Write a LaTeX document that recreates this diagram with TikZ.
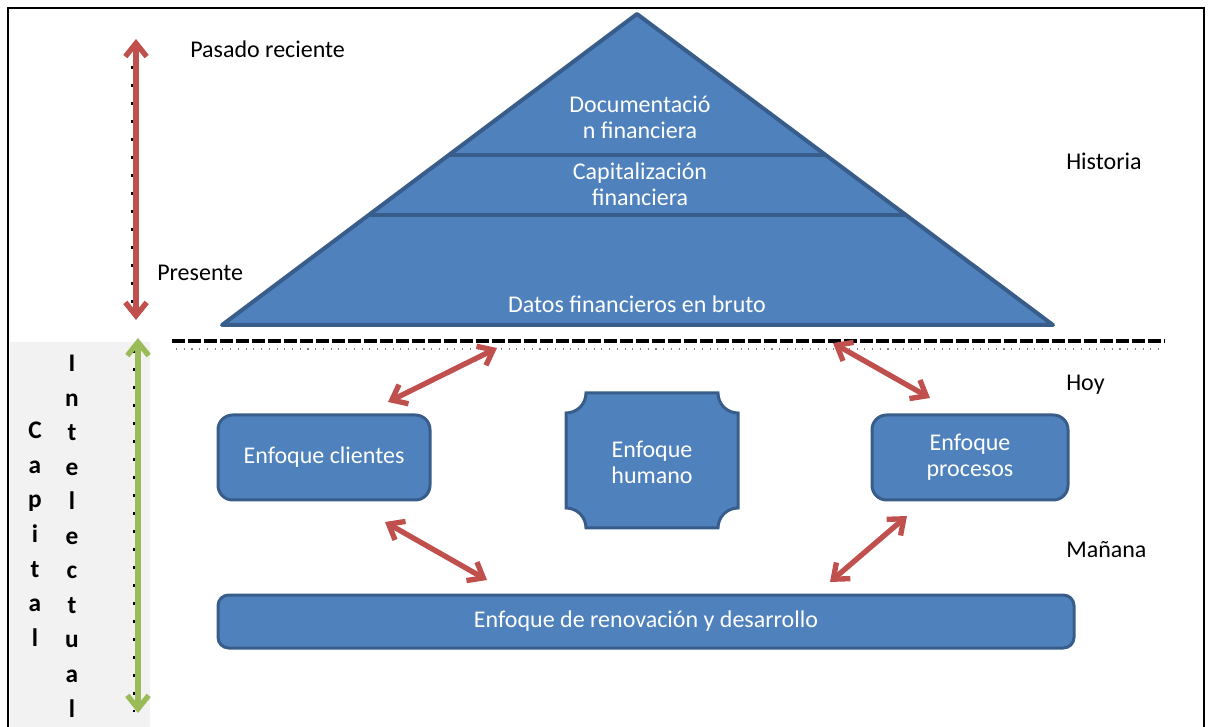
\documentclass[tikz,border=0pt]{standalone}
\usepackage{fontspec}
\setmainfont{Carlito}
\usetikzlibrary{arrows.meta,calc}

\definecolor{fillblue}{HTML}{4F81BD}
\definecolor{edgeblue}{HTML}{385D8A}
\definecolor{arrred}{HTML}{C0504D}
\definecolor{arrgreen}{HTML}{9BBB59}
\definecolor{panelgray}{HTML}{F2F2F2}

\begin{document}
\begin{tikzpicture}[x=0.75pt,y=-0.75pt,
  lbl/.style={font=\fontsize{18}{19.5}\selectfont, text=black, inner sep=0pt},
  wlbl/.style={font=\fontsize{18}{19.5}\selectfont, text=white, align=center, inner sep=0pt},
  vlbl/.style={font=\bfseries\fontsize{19}{25.9}\selectfont, text=black, align=center, inner sep=0pt},
  fbox/.style={draw=edgeblue, fill=fillblue, line width=2.25pt, rounded corners=11pt,
    text=white, font=\fontsize{18}{19.5}\selectfont, align=center, inner sep=0pt},
  duoarrow/.style={line width=4pt, {Straight Barb[length=10pt,width=16pt]}-{Straight Barb[length=10pt,width=16pt]}},
  redarrow/.style={duoarrow, draw=arrred},
  greenarrow/.style={duoarrow, draw=arrgreen},
  speck/.style={draw=black, line width=2pt, dash pattern=on 2.5pt off 11pt},
  divider/.style={draw=edgeblue, line width=3pt},
]
\useasboundingbox (0,0) rectangle (1208,727);

% frame and side panel
\fill[panelgray] (10,342) rectangle (150,727);
\draw[line width=2pt] (8,727) -- (8,8) -- (1204,8) -- (1204,727);

% time axes on the left
\coordinate (pastTop) at (136,39);
\coordinate (pastBot) at (136,320);
\coordinate (icTop) at (138,338);
\coordinate (icBot) at (138,713);
\draw[speck] (132,48) -- (132,318);
\draw[speck] (134,350) -- (134,712);
\draw[redarrow] (pastTop) -- (pastBot);
\draw[greenarrow] (icTop) -- (icBot);

\node[lbl, anchor=base west] (pasado) at (190,58) {Pasado reciente};
\node[lbl, anchor=base west] (presente) at (157,281) {Presente};
\node[lbl, anchor=base west] (historia) at (1066,170) {Historia};
\node[lbl, anchor=base west] (hoy) at (1066,391) {Hoy};
\node[lbl, anchor=base west] (manana) at (1066,557) {Mañana};

\node[vlbl, anchor=north] (capital) at (35,422) {C\\a\\p\\i\\t\\a\\l};
\node[vlbl, anchor=north] (intelectual) at (72,355) {I\\n\\t\\e\\l\\e\\c\\t\\u\\a\\l};

% pyramid of financial data
\coordinate (apex) at (637,14);
\coordinate (baseL) at (222,325);
\coordinate (baseR) at (1053,325);
\draw[fill=fillblue, draw=edgeblue, line width=3pt, line join=round]
  (apex) -- (baseR) -- (baseL) -- cycle;
\coordinate (d1L) at ($(apex)!0.4534!(baseL)$);
\coordinate (d1R) at ($(apex)!0.4534!(baseR)$);
\coordinate (d2L) at ($(apex)!0.6463!(baseL)$);
\coordinate (d2R) at ($(apex)!0.6463!(baseR)$);
\draw[divider] (d1L) -- (d1R);
\draw[divider] (d2L) -- (d2R);

\node[wlbl] (doc) at (640,117) {Documentació\\n financiera};
\node[wlbl] (cap) at (640,184) {Capitalización\\financiera};
\node[wlbl] (datos) at (637,304) {Datos financieros en bruto};

% present / future divider
\draw[line width=3pt, dash pattern=on 9.5pt off 2.5pt] (172,341) -- (1165,341);
\draw[gray, line width=0.8pt, dash pattern=on 0.8pt off 5pt] (176,349) -- (1165,349);

% focus boxes
\node[fbox, minimum width=159pt, minimum height=63.75pt] (cli) at (324,457.5) {Enfoque clientes};
\node[fbox, minimum width=147pt, minimum height=63.75pt] (pro) at (970,457.5) {Enfoque\\procesos};
\node[fbox, rounded corners=8pt, minimum width=642pt, minimum height=39.75pt] (ren) at (646,621.5) {Enfoque de renovación y desarrollo};

\draw[fill=fillblue, draw=edgeblue, line width=2.25pt]
  (586,393) -- (718,393) arc[start angle=180, end angle=90, radius=20]
  -- (738,508) arc[start angle=270, end angle=180, radius=20]
  -- (586,528) arc[start angle=360, end angle=270, radius=20]
  -- (566,413) arc[start angle=90, end angle=0, radius=20] -- cycle;
\node[wlbl] (hum) at (652,462) {Enfoque\\humano};

% links between the focus areas
\coordinate (a1s) at (388,402);
\coordinate (a1e) at (497,348);
\coordinate (a2s) at (833,343);
\coordinate (a2e) at (930,398);
\coordinate (a3s) at (385,522);
\coordinate (a3e) at (487,580);
\coordinate (a4s) at (830,582);
\coordinate (a4e) at (907,516);
\draw[redarrow] (a1s) -- (a1e);
\draw[redarrow] (a2s) -- (a2e);
\draw[redarrow] (a3s) -- (a3e);
\draw[redarrow] (a4s) -- (a4e);
\end{tikzpicture}
\end{document}
